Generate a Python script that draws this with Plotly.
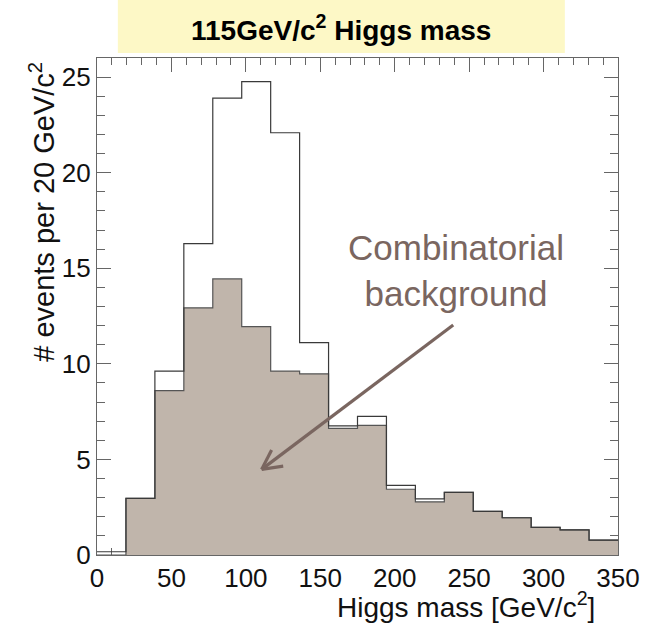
import numpy as np
import plotly.graph_objects as go

# ---- data ----
x_min, x_max, n_bins = 0, 350, 18
total_events = [0.17, 2.96, 9.62, 16.29, 23.90, 24.76, 22.09, 11.11, 6.76, 7.25,
                3.64, 2.94, 3.28, 2.28, 1.95, 1.45, 1.31, 0.78]
background_events = [0.0, 2.96, 8.60, 12.93, 14.44, 11.95, 9.62, 9.48, 6.62, 6.78,
                     3.44, 2.78, 3.28, 2.28, 1.95, 1.45, 1.31, 0.78]
x_ticks = [0, 50, 100, 150, 200, 250, 300, 350]
y_ticks = [0, 5, 10, 15, 20, 25]
title_text = "115GeV/c<sup>2</sup> Higgs mass"
x_title = "Higgs mass [GeV/c<sup>2</sup>]"
y_title = "# events per 20 GeV/c<sup>2</sup>"
note_text = "Combinatorial<br>background"
arrow_start = (239.3, 12.03)
arrow_tip = (110.6, 4.48)
arrow_wing_a = (117.3, 5.49)
arrow_wing_b = (125.1, 4.65)

edges = np.linspace(x_min, x_max, n_bins + 1)

FONT = "Liberation Sans, Arial, Helvetica, sans-serif"
FILL = "#c0b5ab"
NOTE = "#7a6660"

fig = go.Figure()
fig.add_trace(go.Scatter(
    x=edges, y=background_events + [background_events[-1]],
    mode="lines", line=dict(shape="hv", color="#555555", width=1.2),
    fill="tozeroy", fillcolor=FILL, hoverinfo="skip", showlegend=False))
fig.add_trace(go.Scatter(
    x=edges, y=total_events + [total_events[-1]],
    mode="lines", line=dict(shape="hv", color="#3a3a3a", width=1.2),
    hoverinfo="skip", showlegend=False))

axis_common = dict(
    showline=True, linecolor="#666666", linewidth=1.2, mirror="allticks",
    ticks="inside", tickcolor="#666666", tickwidth=1.2, ticklen=14,
    showgrid=False, zeroline=False, layer="below traces",
    tickfont=dict(family=FONT, size=26, color="#111111"),
)

fig.update_xaxes(range=[x_min, x_max], tickvals=x_ticks,
                 minor=dict(dtick=10, ticks="inside", ticklen=7,
                            tickcolor="#666666", tickwidth=1.2, showgrid=False),
                 **axis_common)
fig.update_yaxes(range=[0, 26], tickvals=y_ticks,
                 minor=dict(dtick=1, ticks="inside", ticklen=8,
                            tickcolor="#666666", tickwidth=1.2, showgrid=False),
                 **axis_common)

shapes = [
    dict(type="rect", xref="paper", yref="paper", x0=0.040, x1=0.898,
         y0=1.010, y1=1.12, fillcolor="#fdf8c6", line=dict(width=0), layer="below"),
    dict(type="line", xref="x", yref="y", x0=arrow_start[0], y0=arrow_start[1],
         x1=arrow_tip[0], y1=arrow_tip[1], line=dict(color=NOTE, width=3.2)),
    dict(type="line", xref="x", yref="y", x0=arrow_wing_a[0], y0=arrow_wing_a[1],
         x1=arrow_tip[0], y1=arrow_tip[1], line=dict(color=NOTE, width=3.2)),
    dict(type="line", xref="x", yref="y", x0=arrow_wing_b[0], y0=arrow_wing_b[1],
         x1=arrow_tip[0], y1=arrow_tip[1], line=dict(color=NOTE, width=3.2)),
]

annotations = [
    dict(text=title_text, xref="paper", yref="paper", x=0.468, y=1.060,
         xanchor="center", yanchor="middle", showarrow=False,
         font=dict(family=FONT, size=28, color="#000000", weight="bold")),
    dict(text=x_title, xref="paper", yref="paper", x=0.96, y=-0.10,
         xanchor="right", yanchor="middle", showarrow=False,
         font=dict(family=FONT, size=28, color="#111111")),
    dict(text=y_title, xref="paper", yref="paper", x=-0.106, y=0.996,
         xanchor="center", yanchor="top", showarrow=False, textangle=-90,
         font=dict(family=FONT, size=29, color="#111111")),
    dict(text=note_text, xref="x", yref="y", x=241, y=14.88,
         xanchor="center", yanchor="middle", showarrow=False,
         font=dict(family=FONT, size=35, color=NOTE)),
]

fig.update_layout(
    width=660, height=628,
    margin=dict(l=97, r=42, t=58, b=73),
    paper_bgcolor="white", plot_bgcolor="white",
    shapes=shapes, annotations=annotations,
)

fig.write_html("out.html")
